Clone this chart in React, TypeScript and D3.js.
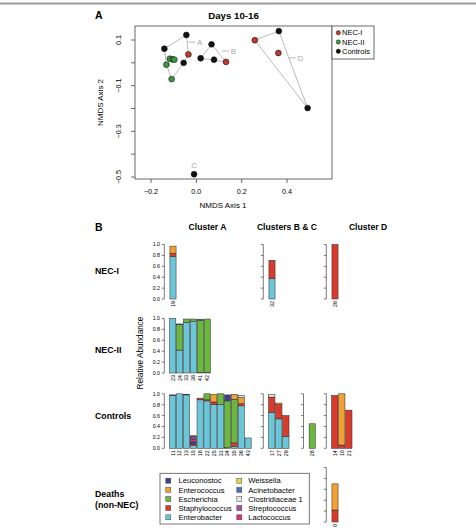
import * as d3 from 'd3';

// NMDS ordination, days 10-16
const nmdsX = [-0.044, -0.141, -0.056, -0.035, -0.117, -0.104, -0.097, -0.132, -0.109, 0.019, 0.067, 0.078, 0.131, -0.01, 0.258, 0.364, 0.362, 0.491];
const nmdsY = [0.122, 0.062, 0.0, 0.037, 0.018, 0.015, 0.014, -0.008, -0.071, 0.02, 0.081, 0.014, 0.004, -0.488, 0.099, 0.139, 0.043, -0.198];
const nmdsGroup = ['Controls', 'Controls', 'Controls', 'NEC-I', 'NEC-II', 'NEC-II', 'NEC-II', 'NEC-II', 'NEC-II', 'Controls', 'Controls', 'Controls', 'NEC-I', 'Controls', 'NEC-I', 'Controls', 'NEC-I', 'Controls'];
const nmdsCluster = ['A', 'A', 'A', 'A', 'A', 'A', 'A', 'A', 'A', 'B', 'B', 'B', 'B', 'C', 'D', 'D', 'D', 'D'];

const groups = ['NEC-I', 'NEC-II', 'Controls'];
const groupColors = ['#bf3b32', '#3c9a3e', '#111111'];

// cluster labels: anchor in NMDS units, with or without a leader line
const clusterNames = ['A', 'B', 'C', 'D'];
const clusterLabelX = [-0.035, 0.114, -0.01, 0.409];
const clusterLabelY = [0.091, 0.052, -0.449, 0.022];
const clusterLeader = [true, true, false, true];

const xTicks = [-0.2, 0.0, 0.2, 0.4];
const yTicks = [0.1, 0.0, -0.1, -0.2, -0.3, -0.4, -0.5];
const yTickLabels = ['0.1', '', '\u22120.1', '', '\u22120.3', '', '\u22120.5'];
const xTickLabels = ['\u22120.2', '0.0', '0.2', '0.4'];

// taxa in stacking order (bottom to top)
const taxa = ['Enterobacter', 'Staphylococcus', 'Escherichia', 'Enterococcus', 'Leuconostoc', 'Lactococcus', 'Streptococcus', 'Clostridiaceae 1', 'Acinetobacter', 'Weissella'];
const taxaColors = ['#6cc6da', '#d93a2c', '#6bb83f', '#f3a033', '#3d3f8f', '#d4317a', '#a4509e', '#e8e8e8', '#4a72b8', '#e6d84a'];
const legendLeft = ['Leuconostoc', 'Enterococcus', 'Escherichia', 'Staphylococcus', 'Enterobacter'];
const legendRight = ['Weissella', 'Acinetobacter', 'Clostridiaceae 1', 'Streptococcus', 'Lactococcus'];

// relative abundance per sample, values follow `taxa` order
const necIA = [{ id: '19', v: [0.78, 0.06, 0, 0.13] }];
const necIBC = [{ id: '32', v: [0.38, 0.33] }];
const necID = [{ id: '26', v: [0, 1.0] }];
const necIIA = [
  { id: '23', v: [1.0] },
  { id: '24', v: [0.42, 0, 0.47, 0, 0.01] },
  { id: '33', v: [0.93, 0, 0.06] },
  { id: '38', v: [0.95, 0, 0.04] },
  { id: '41', v: [0.01, 0, 0.96, 0, 0.01] },
  { id: '42', v: [0.01, 0, 0.98] },
];
const controlsA = [
  { id: '11', v: [0.97, 0, 0, 0, 0.01] },
  { id: '12', v: [1.0] },
  { id: '13', v: [0.98, 0, 0, 0, 0.01] },
  { id: '15', v: [0.05, 0.03, 0, 0, 0.04, 0.05, 0.04, 0, 0.02] },
  { id: '18', v: [0.89, 0.03] },
  { id: '22', v: [0.87, 0.02, 0.11] },
  { id: '25', v: [0.8, 0.05, 0, 0.14] },
  { id: '31', v: [0.8, 0, 0.2] },
  { id: '34', v: [0.01, 0, 0.86, 0, 0.11] },
  { id: '35', v: [0.03, 0.07, 0.8, 0.09] },
  { id: '36', v: [0.78, 0.04, 0, 0.11, 0, 0, 0, 0.04] },
  { id: '43', v: [0.19] },
];
const controlsBC = [
  { id: '17', v: [0.66, 0.28, 0, 0, 0, 0, 0, 0.05] },
  { id: '27', v: [0.54, 0.26, 0, 0.03] },
  { id: '29', v: [0.22, 0.38] },
];
const controls28 = [{ id: '28', v: [0, 0, 0.45] }];
const controlsD = [
  { id: '14', v: [0, 0.97] },
  { id: '10', v: [0, 0.06, 0, 0.94] },
  { id: '21', v: [0, 0.7] },
];
const deathsD = [{ id: '0', v: [0, 0.22, 0, 0.48] }];

const abundanceTicks = [0, 0.2, 0.4, 0.6, 0.8, 1.0];

type Sample = { id: string; v: number[] };

const FONT = '"Liberation Sans", Arial, Helvetica, sans-serif';

function Ordination() {
  const x = d3.scaleLinear().domain([-0.2, 0.4]).range([151, 287]);
  const y = d3.scaleLinear().domain([-0.5, 0.1]).range([177, 40]);
  const box = { l: 135, r: 332, t: 26, b: 179 };
  const color = d3.scaleOrdinal<string, string>().domain(groups).range(groupColors);

  const hulls = d3.groups(d3.range(nmdsX.length), (i) => nmdsCluster[i])
    .map(([c, idx]) => ({
      c,
      hull: idx.length > 2 ? d3.polygonHull(idx.map((i) => [x(nmdsX[i]), y(nmdsY[i])] as [number, number])) : null,
    }));

  return (
    <g>
      <text x={95} y={19.3} fontSize={10.5} fontWeight="bold">A</text>
      <text x={(box.l + box.r) / 2} y={19.3} fontSize={9.7} fontWeight="bold" textAnchor="middle">Days 10-16</text>
      {hulls.map(({ c, hull }) =>
        hull ? <path key={c} d={'M' + hull.map((p) => p.join(',')).join('L') + 'Z'} fill="none" stroke="#a8a8a8" strokeWidth={0.8} /> : null
      )}
      {clusterNames.map((c, i) => {
        const lx = x(clusterLabelX[i]);
        const ly = y(clusterLabelY[i]);
        return clusterLeader[i] ? (
          <g key={c}>
            <line x1={lx} x2={lx + 7} y1={ly} y2={ly} stroke="#a8a8a8" strokeWidth={0.8} />
            <text x={lx + 8.5} y={ly + 3} fontSize={8} fill="#a8a8a8">{c}</text>
          </g>
        ) : (
          <text key={c} x={lx} y={ly + 3} fontSize={8} fill="#a8a8a8" textAnchor="middle">{c}</text>
        );
      })}
      {nmdsX.map((v, i) => (
        <circle key={i} cx={x(v)} cy={y(nmdsY[i])} r={2.9} fill={color(nmdsGroup[i])} stroke="#111" strokeWidth={0.6} />
      ))}
      <rect x={box.l} y={box.t} width={box.r - box.l} height={box.b - box.t} fill="none" stroke="#444" strokeWidth={0.8} />
      {xTicks.map((t, i) => (
        <g key={t}>
          <line x1={x(t)} x2={x(t)} y1={box.b} y2={box.b + 4} stroke="#444" strokeWidth={0.8} />
          <text x={x(t)} y={194.3} fontSize={7.2} textAnchor="middle">{xTickLabels[i]}</text>
        </g>
      ))}
      {yTicks.map((t, i) => (
        <g key={t}>
          <line x1={box.l - 4} x2={box.l} y1={y(t)} y2={y(t)} stroke="#444" strokeWidth={0.8} />
          {yTickLabels[i] && (
            <text transform={`translate(121,${y(t)}) rotate(-90)`} fontSize={7.2} textAnchor="middle">{yTickLabels[i]}</text>
          )}
        </g>
      ))}
      <text x={223} y={208} fontSize={8} textAnchor="middle">NMDS Axis 1</text>
      <text transform={`translate(102.5,${(box.t + box.b) / 2}) rotate(-90)`} fontSize={8} textAnchor="middle">NMDS Axis 2</text>
      <rect x={332} y={26} width={42} height={33} fill="#fff" stroke="#444" strokeWidth={0.8} />
      {groups.map((g, i) => (
        <g key={g}>
          <circle cx={338.3} cy={32.7 + i * 9.3} r={2.2} fill={groupColors[i]} stroke="#111" strokeWidth={0.4} />
          <text x={342} y={35.3 + i * 9.3} fontSize={7.5}>{g}</text>
        </g>
      ))}
    </g>
  );
}

function StackPanel({ samples, axisX, top, labels }: { samples: Sample[]; axisX: number; top: number; labels: boolean }) {
  const h = 54.5;
  const yS = d3.scaleLinear().domain([0, 1]).range([top + h, top]);
  const start = axisX + 5.3;
  const xS = d3.scaleBand().domain(samples.map((s) => s.id)).range([start, start + samples.length * 6.8]).paddingInner(0.1).paddingOuter(0);
  const stack = (s: Sample) => {
    let acc = 0;
    return taxa.map((t, k) => {
      const v = s.v[k] || 0;
      const seg = { k, y0: acc, y1: acc + v };
      acc += v;
      return seg;
    }).filter((seg) => seg.y1 > seg.y0);
  };
  return (
    <g>
      <line x1={axisX} x2={axisX} y1={yS(0)} y2={yS(1)} stroke="#444" strokeWidth={0.7} />
      {abundanceTicks.map((t) => (
        <g key={t}>
          <line x1={axisX - 2.5} x2={axisX} y1={yS(t)} y2={yS(t)} stroke="#444" strokeWidth={0.7} />
          {labels && <text x={axisX - 4.3} y={yS(t) + 1.9} fontSize={5.3} textAnchor="end">{t.toFixed(1)}</text>}
        </g>
      ))}
      {samples.map((s) => (
        <g key={s.id}>
          {stack(s).map((seg) => (
            <rect key={seg.k} x={xS(s.id)} width={xS.bandwidth()} y={yS(seg.y1)} height={yS(seg.y0) - yS(seg.y1)}
              fill={taxaColors[seg.k]} stroke="#333" strokeWidth={0.55} />
          ))}
          <text transform={`translate(${(xS(s.id) ?? 0) + xS.bandwidth() / 2 + 1.9},${yS(0) + 2}) rotate(-90)`}
            fontSize={5.4} textAnchor="end">{s.id}</text>
        </g>
      ))}
    </g>
  );
}

function Composition() {
  const axA = 164.3, axBC = 263.3, ax28 = 303.5, axD = 326.3;
  const tops = [244.5, 318.5, 393.8, 467.5];
  const legY = [480.7, 489.9, 499.0, 508.1, 517.3];
  const colorOf = (name: string) => taxaColors[taxa.indexOf(name)];
  return (
    <g>
      <text x={95} y={230.7} fontSize={10.5} fontWeight="bold">B</text>
      <text x={207.5} y={230} fontSize={8.6} fontWeight="bold" textAnchor="middle">Cluster A</text>
      <text x={287} y={230} fontSize={8.6} fontWeight="bold" textAnchor="middle">Clusters B &amp; C</text>
      <text x={368} y={230} fontSize={8.6} fontWeight="bold" textAnchor="middle">Cluster D</text>

      <text x={95} y={274} fontSize={8.8} fontWeight="bold">NEC-I</text>
      <text x={95} y={353} fontSize={8.8} fontWeight="bold">NEC-II</text>
      <text x={95} y={419} fontSize={8.8} fontWeight="bold">Controls</text>
      <text x={95} y={497.3} fontSize={8.8} fontWeight="bold">Deaths</text>
      <text x={95} y={507.5} fontSize={8.8} fontWeight="bold">(non-NEC)</text>

      <text transform="translate(143.3,353) rotate(-90)" fontSize={8.2} textAnchor="middle">Relative Abundance</text>

      <StackPanel samples={necIA} axisX={axA} top={tops[0]} labels />
      <StackPanel samples={necIBC} axisX={axBC} top={tops[0]} labels={false} />
      <StackPanel samples={necID} axisX={axD} top={tops[0]} labels={false} />
      <StackPanel samples={necIIA} axisX={axA} top={tops[1]} labels />
      <StackPanel samples={controlsA} axisX={axA} top={tops[2]} labels />
      <StackPanel samples={controlsBC} axisX={axBC} top={tops[2]} labels={false} />
      <StackPanel samples={controls28} axisX={ax28} top={tops[2]} labels={false} />
      <StackPanel samples={controlsD} axisX={axD} top={tops[2]} labels={false} />
      <StackPanel samples={deathsD} axisX={axD} top={tops[3]} labels={false} />

      <rect x={160} y={473.3} width={149.3} height={50.7} fill="#fff" stroke="#555" strokeWidth={0.8} />
      {legendLeft.map((t, i) => (
        <g key={t}>
          <rect x={165.8} y={legY[i] - 2.5} width={5} height={5} fill={colorOf(t)} stroke="#444" strokeWidth={0.5} />
          <text x={178.5} y={legY[i] + 2.7} fontSize={7.6}>{t}</text>
        </g>
      ))}
      {legendRight.map((t, i) => (
        <g key={t}>
          <rect x={236.8} y={legY[i] - 2.5} width={5} height={5} fill={colorOf(t)} stroke="#444" strokeWidth={0.5} />
          <text x={248.3} y={legY[i] + 2.7} fontSize={7.6}>{t}</text>
        </g>
      ))}
    </g>
  );
}

export default function App() {
  return (
    <svg width={476} height={530} style={{ position: 'absolute', left: 0, top: 0, background: '#fff' }} fontFamily={FONT}>
      <rect width={476} height={530} fill="#fff" />
      <line x1={0} x2={476} y1={3.5} y2={3.5} stroke="#9a9a9a" strokeWidth={2} />
      <Ordination />
      <Composition />
    </svg>
  );
}
